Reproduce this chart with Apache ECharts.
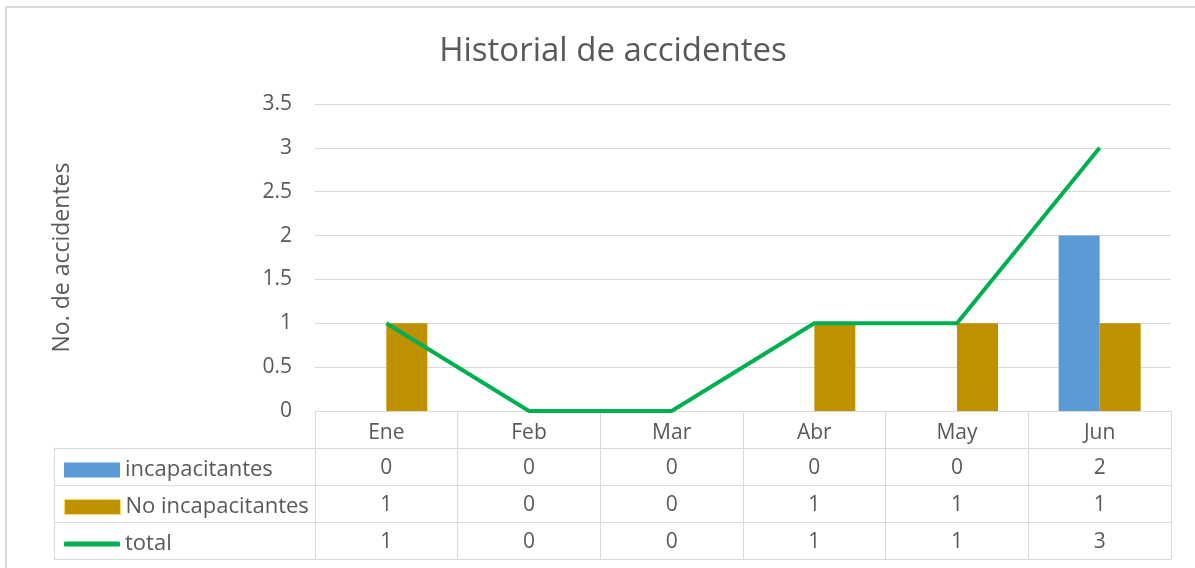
<!DOCTYPE html>
<html>
<head>
<meta charset="utf-8">
<script src="https://cdn.jsdelivr.net/npm/echarts@6/dist/echarts.min.js"></script>
<style>
  html, body { margin: 0; padding: 0; background: #fff; }
  #main { width: 1195px; height: 568px; }
</style>
</head>
<body>
<div id="main"></div>
<script>
// datos del grafico
var meses = ['Ene', 'Feb', 'Mar', 'Abr', 'May', 'Jun']
var incapacitantes = [0, 0, 0, 0, 0, 2]
var noIncapacitantes = [1, 0, 0, 1, 1, 1]
var total = [1, 0, 0, 1, 1, 3]
var filas = ['incapacitantes', 'No incapacitantes', 'total']

var gris = '#d9d9d9'
var texto = '#595959'
var fuente = 'Open Sans'

var chart = echarts.init(document.getElementById('main'))

// cada fila de la tabla es un eje x desplazado hacia abajo
function filaEje (offset, valores) {
  return {
    type: 'category',
    gridIndex: 0,
    position: 'bottom',
    offset: offset,
    data: meses,
    axisLine: { show: true, lineStyle: { color: gris, width: 1 } },
    axisTick: { show: valores !== null, length: 37, interval: 0, lineStyle: { color: gris } },
    axisLabel: {
      show: valores !== null,
      interval: 0,
      margin: 10,
      color: texto,
      fontSize: 21,
      fontFamily: fuente,
      formatter: function (v, i) { return valores ? String(valores[i]) : v }
    },
    splitLine: { show: false }
  }
}

function leyenda (nombre, top, icono, alto, estilo) {
  return {
    data: [nombre],
    left: 59,
    top: top,
    icon: icono,
    itemWidth: 56,
    itemHeight: alto,
    selectedMode: false,
    itemStyle: estilo,
    textStyle: { color: texto, fontSize: 22, fontFamily: fuente }
  }
}

var option = {
  animation: false,
  title: {
    text: 'Historial de accidentes',
    left: 608,
    top: 30,
    textAlign: 'center',
    textStyle: { color: texto, fontSize: 33, fontWeight: 'normal', fontFamily: fuente }
  },
  legend: [
    leyenda(filas[0], 454, 'rect', 15, {}),
    leyenda(filas[1], 491, 'rect', 15, { borderColor: '#ffd966', borderWidth: 1 }),
    leyenda(filas[2], 528, 'roundRect', 5, {})
  ],
  graphic: [{
    type: 'rect',
    shape: { x: 6, y: 7, width: 1230, height: 600 },
    style: { fill: null, stroke: gris, lineWidth: 2 },
    silent: true
  }],
  grid: [
    { left: 315, right: 24, top: 104, bottom: 157 },
    { left: 54, top: 448, width: 261, height: 111 }
  ],
  xAxis: [
    {
      type: 'category',
      gridIndex: 0,
      data: meses,
      axisLine: { show: true, lineStyle: { color: gris } },
      axisTick: { show: true, length: 37, interval: 0, lineStyle: { color: gris } },
      axisLabel: { interval: 0, margin: 12, color: texto, fontSize: 21, fontFamily: fuente }
    },
    filaEje(37, incapacitantes),
    filaEje(74, noIncapacitantes),
    filaEje(111, total),
    filaEje(148, null),
    { type: 'value', gridIndex: 1, show: false }
  ],
  yAxis: [
    {
      type: 'value',
      gridIndex: 0,
      min: 0,
      max: 3.5,
      interval: 0.5,
      name: 'No. de accidentes',
      nameLocation: 'middle',
      nameGap: 241,
      nameTextStyle: { color: texto, fontSize: 23, fontFamily: fuente },
      axisLine: { show: false },
      axisTick: { show: false },
      axisLabel: { margin: 23, color: texto, fontSize: 21, fontFamily: fuente },
      splitLine: { lineStyle: { color: gris } }
    },
    {
      type: 'category',
      gridIndex: 1,
      inverse: true,
      data: filas,
      axisLine: { show: true, lineStyle: { color: gris } },
      axisTick: { show: false },
      axisLabel: { show: false },
      splitLine: { show: true, interval: 0, lineStyle: { color: gris } }
    }
  ],
  series: [
    {
      name: filas[0],
      type: 'bar',
      xAxisIndex: 0,
      yAxisIndex: 0,
      data: incapacitantes,
      barWidth: 41,
      barGap: '0%',
      itemStyle: { color: '#5b9bd5' }
    },
    {
      name: filas[1],
      type: 'bar',
      xAxisIndex: 0,
      yAxisIndex: 0,
      data: noIncapacitantes,
      barWidth: 41,
      barGap: '0%',
      itemStyle: { color: '#bf9000' }
    },
    {
      name: filas[2],
      type: 'line',
      xAxisIndex: 0,
      yAxisIndex: 0,
      data: total,
      symbol: 'none',
      lineStyle: { color: '#00b050', width: 4 },
      itemStyle: { color: '#00b050' }
    }
  ]
}

option && chart.setOption(option)
</script>
</body>
</html>
